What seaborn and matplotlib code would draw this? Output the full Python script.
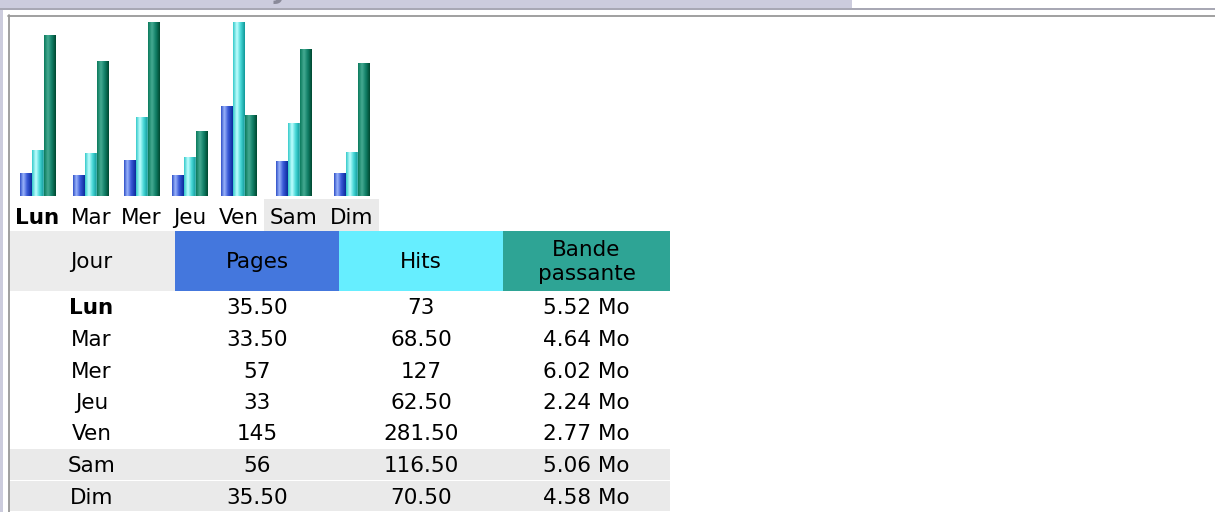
import numpy as np
import pandas as pd
import matplotlib
matplotlib.use("Agg")
import matplotlib.pyplot as plt
import seaborn as sns
from matplotlib.colors import LinearSegmentedColormap
from matplotlib.patches import Rectangle

# ---------------- data ----------------
days = ["Lun", "Mar", "Mer", "Jeu", "Ven", "Sam", "Dim"]
pages = [35.5, 33.5, 57, 33, 145, 56, 35.5]
hits = [73, 68.5, 127, 62.5, 281.5, 116.5, 70.5]
bandwidth_mo = [5.52, 4.64, 6.02, 2.24, 2.77, 5.06, 4.58]
pages_text = ["35.50", "33.50", "57", "33", "145", "56", "35.50"]
hits_text = ["73", "68.50", "127", "62.50", "281.50", "116.50", "70.50"]
bandwidth_text = ["5.52 Mo", "4.64 Mo", "6.02 Mo", "2.24 Mo", "2.77 Mo", "5.06 Mo", "4.58 Mo"]
headers = ["Jour", "Pages", "Hits", "Bande\npassante"]
title = "Jours de la semaine"
weekend_days = ["Sam", "Dim"]
current_day = "Lun"

# ---------------- layout (pixels) ----------------
W, H = 1215, 512
label_centers = np.array([37.5, 91, 141.5, 190, 238.5, 294, 351.5])
bar_w = 12
chart_top, chart_bottom = 21.5, 196
table_cols = [8, 175, 339, 503, 670]
header_top, header_bottom = 231, 291
row_h = 31.5
FS = 15.5

header_colors = ["#ECECEC", "#4477DD", "#66EEFF", "#2EA495"]
weekend_bg = "#EAEAEA"

sns.set_style("white")
plt.rcParams["font.family"] = ["DejaVu Sans"]

fig = plt.figure(figsize=(W / 100, H / 100), dpi=100)
page = fig.add_axes([0, 0, 1, 1])
page.set_xlim(0, W)
page.set_ylim(H, 0)
page.axis("off")


def rect(x0, y0, x1, y1, color, z=1):
    page.add_patch(Rectangle((x0, y0), x1 - x0, y1 - y0, facecolor=color,
                             edgecolor="none", zorder=z))


# ---------------- page frame ----------------
rect(0, 0, 852, 8, "#CCCCDD")
rect(0, 8, W, 9.5, "#A8A8B4")
rect(0, 9.5, 3, H, "#CCCCDD")
page.plot([8, W], [15.5, 15.5], color="#999999", lw=1.3, zorder=2)
page.plot([8.5, 8.5], [15, H], color="#999999", lw=1.3, zorder=2)
# title of the section, scrolled almost out of view (only its foot shows)
page.text(420, -2.5, title, ha="center", va="baseline", fontsize=19,
          fontweight="bold", color="#8A8A99", zorder=3)

# ---------------- chart ----------------
def px_axes(x0, y0, x1, y1):
    return fig.add_axes([x0 / W, 1 - y1 / H, (x1 - x0) / W, (y1 - y0) / H])


ax1 = px_axes(0, chart_top, 400, chart_bottom)
ax1.patch.set_visible(False)
ax2 = ax1.twinx()
ax2.patch.set_visible(False)

cmap_p = LinearSegmentedColormap.from_list(
    "p", [(0, "#3050C8"), (0.28, "#9AB4FA"), (0.6, "#3A5AD8"), (1, "#0B2A9C")])
cmap_h = LinearSegmentedColormap.from_list(
    "h", [(0, "#35CACA"), (0.33, "#C0FFFF"), (0.65, "#45D6D6"), (1, "#0F9898")])
cmap_k = LinearSegmentedColormap.from_list(
    "k", [(0, "#0B7A5C"), (0.33, "#45AA92"), (0.65, "#118068"), (1, "#004830")])

spacing = np.min(np.diff(np.sort(label_centers)))
series = [
    (ax1, pages, -bar_w, "#4477DD", cmap_p),
    (ax1, hits, 0, "#66EEFF", cmap_h),
    (ax2, bandwidth_mo, bar_w, "#2EA495", cmap_k),
]
for ax, vals, off, col, cmap in series:
    n0 = len(ax.patches)
    df = pd.DataFrame({"x": label_centers + off, "v": vals})
    sns.barplot(data=df, x="x", y="v", native_scale=True, orient="x",
                width=bar_w / spacing, color=col, saturation=1,
                errorbar=None, ax=ax)
    grad = np.linspace(0, 1, 64).reshape(1, -1)
    for p in ax.patches[n0:]:
        x0, w, h = p.get_x(), p.get_width(), p.get_height()
        ax.imshow(grad, cmap=cmap, extent=(x0, x0 + w, 0, h), aspect="auto",
                  origin="lower", interpolation="bilinear", zorder=3)

for ax, vals in ((ax1, hits), (ax2, bandwidth_mo)):
    ax.set_xlim(0, 400)
    ax.set_ylim(0, max(vals))
    ax.axis("off")

# day labels under the chart
rect(264, 199, 379, 232, weekend_bg)
for d, cx in zip(days, label_centers):
    page.text(cx, 224.5, d, ha="center", va="baseline", fontsize=FS,
              fontweight="bold" if d == current_day else "normal",
              color="black", zorder=3)

# ---------------- table ----------------
for i, (hdr, c) in enumerate(zip(headers, header_colors)):
    x0, x1 = table_cols[i], table_cols[i + 1]
    rect(x0, header_top, x1, header_bottom, c)
    page.text((x0 + x1) / 2, (header_top + header_bottom) / 2 + 1, hdr,
              ha="center", va="center", fontsize=FS, linespacing=1.22,
              color="black", zorder=3)

col_mid = [(table_cols[i] + table_cols[i + 1]) / 2 for i in range(4)]
for r, d in enumerate(days):
    top = header_bottom + r * row_h
    if d in weekend_days:
        rect(table_cols[0] + 1, top + 0.5, table_cols[-1], top + row_h - 0.5, weekend_bg)
    cells = [d, pages_text[r], hits_text[r], bandwidth_text[r]]
    for j, txt in enumerate(cells):
        page.text(col_mid[j], top + 23.5, txt, ha="center", va="baseline",
                  fontsize=FS,
                  fontweight="bold" if (j == 0 and d == current_day) else "normal",
                  color="black", zorder=3)

fig.savefig("out.png", dpi=100)
